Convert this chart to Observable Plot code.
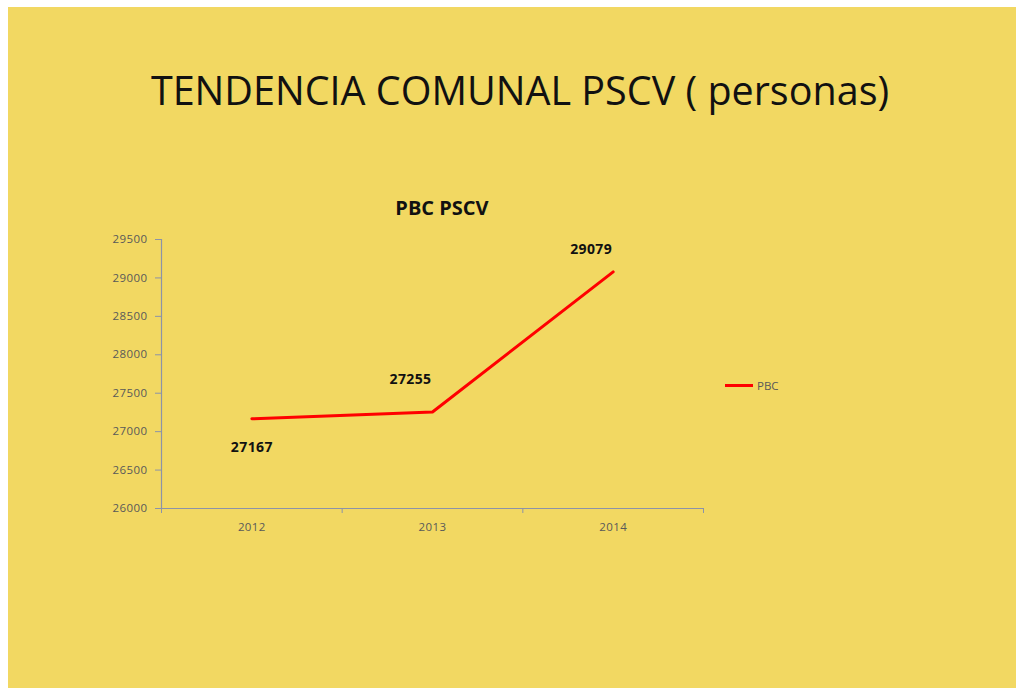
<!DOCTYPE html>
<html>
<head>
<meta charset="utf-8">
<script src="https://cdn.jsdelivr.net/npm/d3@7"></script>
<script src="https://cdn.jsdelivr.net/npm/@observablehq/plot@0.6"></script>
<style>
  html, body { margin: 0; padding: 0; background: #ffffff; width: 1016px; height: 688px; overflow: hidden; }
  #bg { position: absolute; left: 8px; top: 7px; right: 0; bottom: 0; background: #f2d862; }
  #title { position: absolute; left: 0; width: 1040px; top: 63px; text-align: center;
           font-family: "Open Sans", sans-serif; font-size: 39.5px; color: #111; white-space: nowrap; }
  #subtitle { position: absolute; left: 292px; width: 300px; top: 194px; text-align: center;
           font-family: "Open Sans", sans-serif; font-weight: bold; font-size: 20px; color: #111; }
  #legend { position: absolute; left: 725px; top: 378px; font-family: "Open Sans", sans-serif;
            font-size: 11.5px; color: #595959; display: flex; align-items: center; }
  #legend .sw { width: 28px; height: 3px; background: #ff0000; margin-right: 4px; }
  #chart { position: absolute; left: 0; top: 0; }
</style>
</head>
<body>
<div id="bg"></div>
<div id="title">TENDENCIA COMUNAL PSCV ( personas)</div>
<div id="subtitle">PBC PSCV</div>
<div id="legend"><div class="sw"></div><span id="legname"></span></div>
<div id="chart"></div>
<script>
const years = [2012, 2013, 2014];
const values = [27167, 27255, 29079];
const seriesName = "PBC";
const yTicks = [26000, 26500, 27000, 27500, 28000, 28500, 29000, 29500];

const data = years.map((year, i) => ({year, value: values[i]}));
const bandEdges = [years[0] - 0.5, ...years.map(y => y + 0.5)];

document.getElementById("legname").textContent = seriesName;

const axisColor = "#8c93a8";
const labelColor = "#595959";

const plot = Plot.plot({
  width: 1016,
  height: 688,
  marginLeft: 161,
  marginRight: 313,
  marginTop: 239,
  marginBottom: 180,
  style: {background: "transparent", fontFamily: "Open Sans, sans-serif", fontSize: "11.5px", color: labelColor, letterSpacing: "0.4px"},
  x: {domain: [years[0] - 0.5, years[years.length - 1] + 0.5], axis: null},
  y: {domain: [26000, 29500], axis: null},
  marks: [
    Plot.axisY({ticks: yTicks, tickSize: 6, tickPadding: 8, stroke: axisColor, fill: labelColor, label: null, tickFormat: d => String(d)}),
    Plot.ruleX([years[0] - 0.5], {stroke: axisColor, strokeWidth: 1.2}),
    Plot.ruleY([26000], {stroke: axisColor, strokeWidth: 1.2}),
    Plot.axisX({ticks: bandEdges, tickSize: 5, stroke: axisColor, tickFormat: () => "", label: null}),
    Plot.axisX({ticks: years, tickSize: 0, tickPadding: 14, fill: labelColor, tickFormat: d => String(d), label: null}),
    Plot.line(data, {x: "year", y: "value", stroke: "#ff0000", strokeWidth: 3}),
    Plot.text(data.filter((d, i) => i === 0), {x: "year", y: "value", text: d => String(d.value), dy: 29, fontWeight: "bold", fontSize: 14, fill: "#111"}),
    Plot.text(data.filter((d, i) => i === 1), {x: "year", y: "value", text: d => String(d.value), dx: -22, dy: -33, fontWeight: "bold", fontSize: 14, fill: "#111"}),
    Plot.text(data.filter((d, i) => i === 2), {x: "year", y: "value", text: d => String(d.value), dx: -22, dy: -22, fontWeight: "bold", fontSize: 14, fill: "#111"})
  ]
});
document.getElementById("chart").appendChild(plot);
</script>
</body>
</html>
